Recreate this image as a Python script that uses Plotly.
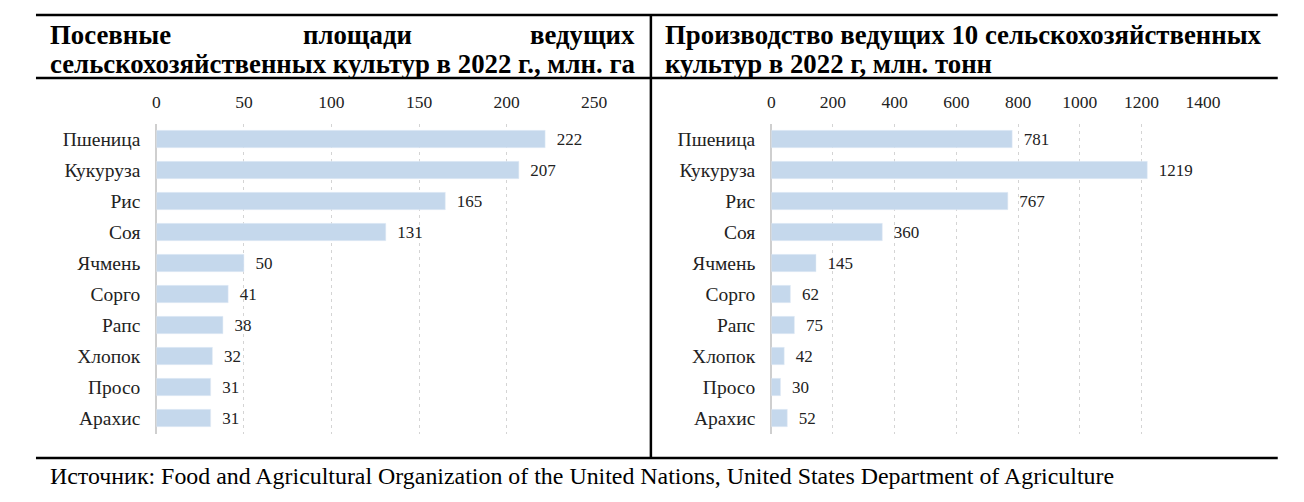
import plotly.graph_objects as go

# the page keeps its 8px body margin and the capture comes out squeezed
# horizontally by 1304/1320, so positions are given in target pixels and mapped back
OFF = 8
SX = 1320 / 1304
W, H = 1290, 502 - 2 * OFF

crops = ["Пшеница", "Кукуруза", "Рис", "Соя", "Ячмень", "Сорго", "Рапс", "Хлопок", "Просо", "Арахис"]
area_mln_ha = [222, 207, 165, 131, 50, 41, 38, 32, 31, 31]
crops_prod = ["Пшеница", "Кукуруза", "Рис", "Соя", "Ячмень", "Сорго", "Рапс", "Хлопок", "Просо", "Арахис"]
prod_mln_t = [781, 1219, 767, 360, 145, 62, 75, 42, 30, 52]

area_ticks = [0, 50, 100, 150, 200, 250]
prod_ticks = [0, 200, 400, 600, 800, 1000, 1200, 1400]

FONT = "Liberation Serif"
BAR = "#c5d8ec"
GRID = "#d4d4d4"


def px(x):
    return ((x - 2) * SX - OFF) / W


def py(y):
    return 1 - (y - OFF) / H


fig = go.Figure()

for vals, cats, xa, ya in ((area_mln_ha, crops, "x", "y"), (prod_mln_t, crops_prod, "x2", "y2")):
    fig.add_trace(go.Bar(
        x=vals, y=cats, orientation="h", marker_color=BAR, width=0.56,
        texttemplate="\u00a0\u00a0%{x}", textposition="outside", cliponaxis=False,
        constraintext="none",
        textfont=dict(family=FONT, size=17, color="#222"),
        xaxis=xa, yaxis=ya, hoverinfo="skip",
    ))

xax = dict(
    side="top", showgrid=True, gridcolor=GRID, griddash="3px,4px", gridwidth=1,
    zeroline=True, zerolinecolor="#cfcfcf", zerolinewidth=1.5,
    tickfont=dict(family=FONT, size=17.5, color="#222"), ticks="",
    ticklabelstandoff=11, showline=False, fixedrange=True,
)
yax = dict(
    autorange="reversed", showgrid=False, showline=False, ticks="",
    tickfont=dict(family=FONT, size=19.5, color="#222"), ticklabelstandoff=15,
    fixedrange=True,
)

ydom = [py(433.5), py(123.5)]

fig.update_layout(
    width=W, height=H,
    margin=dict(l=0, r=0, t=0, b=0),
    paper_bgcolor="white", plot_bgcolor="white",
    showlegend=False,
    xaxis=dict(xax, domain=[px(155), px(595)], range=[0, 250], tickvals=area_ticks, anchor="y"),
    yaxis=dict(yax, domain=ydom, anchor="x"),
    xaxis2=dict(xax, domain=[px(773), px(1207)], range=[0, 1400], tickvals=prod_ticks, anchor="y2"),
    yaxis2=dict(yax, domain=ydom, anchor="x2"),
)

# frame lines
line = dict(color="black", width=2.5)
for y0 in (15, 78, 458):
    fig.add_shape(type="line", xref="paper", yref="paper",
                  x0=px(34), x1=px(1282), y0=py(y0), y1=py(y0), line=line)
fig.add_shape(type="line", xref="paper", yref="paper",
              x0=px(652), x1=px(652), y0=py(15), y1=py(458), line=line)

tfont = dict(family=FONT, size=26.8, color="black")


def note(text, x, y, anchor="left", font=tfont):
    # annotation boxes carry a few px of inner padding
    shift = {"left": -3, "right": 3, "center": 0}[anchor]
    fig.add_annotation(text=text, x=px(x + shift), y=py(y), xref="paper", yref="paper",
                       xanchor=anchor, yanchor="middle", showarrow=False, font=font)


# left title, first line spread out like justified text
note("<b>Посевные</b>", 49, 35)
note("<b>площади</b>", 357, 35, "center")
note("<b>ведущих</b>", 635, 35, "right")
note("<b>сельскохозяйственных культур в 2022 г., млн. га</b>", 49, 64)

# right title
note("<b>Производство ведущих 10 сельскохозяйственных</b>", 667, 35)
note("<b>культур в 2022 г, млн. тонн</b>", 667, 64)

# source
note("Источник: Food and Agricultural Organization of the United Nations, United States Department of Agriculture",
     49, 476, font=dict(family=FONT, size=23.9, color="black"))

fig.write_html("out.html")
